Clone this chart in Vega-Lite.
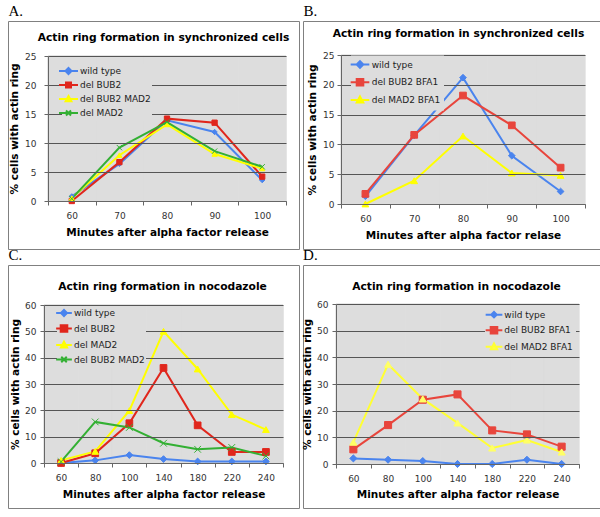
{
  "$schema": "https://vega.github.io/schema/vega-lite/v6.json",
  "padding": {"left": 7, "top": 3, "right": 0, "bottom": 0},
  "background": "white",
  "config": {
    "view": {"stroke": "#808080", "fill": "white", "strokeWidth": 1},
    "axis": {"labelFont": "DejaVu Sans", "labelFontSize": 9, "labelColor": "#333333", "titleFont": "DejaVu Sans", "titleFontSize": 10.5, "titleFontWeight": "bold", "titleColor": "#000000", "domainColor": "#666666", "tickColor": "#666666", "tickSize": 4, "gridColor": "#555555", "gridWidth": 1, "zindex": 1},
    "legend": {"labelFont": "DejaVu Sans", "labelFontSize": 9, "labelColor": "#222222", "labelLimit": 300},
    "title": {"font": "DejaVu Sans", "fontWeight": "bold", "fontSize": 10.7, "color": "#000000"}
  },
  "datasets": {
    "A": [
      {"x": 60, "series": "wild type", "v": 0.8}, {"x": 70, "series": "wild type", "v": 6.4}, {"x": 80, "series": "wild type", "v": 13.9}, {"x": 90, "series": "wild type", "v": 11.9}, {"x": 100, "series": "wild type", "v": 3.6},
      {"x": 60, "series": "del BUB2", "v": 0}, {"x": 70, "series": "del BUB2", "v": 6.7}, {"x": 80, "series": "del BUB2", "v": 14.2}, {"x": 90, "series": "del BUB2", "v": 13.5}, {"x": 100, "series": "del BUB2", "v": 4.2},
      {"x": 60, "series": "del BUB2 MAD2", "v": 0.5}, {"x": 70, "series": "del BUB2 MAD2", "v": 7.9}, {"x": 80, "series": "del BUB2 MAD2", "v": 13.2}, {"x": 90, "series": "del BUB2 MAD2", "v": 8.1}, {"x": 100, "series": "del BUB2 MAD2", "v": 5.6},
      {"x": 60, "series": "del MAD2", "v": 0.4}, {"x": 70, "series": "del MAD2", "v": 9.2}, {"x": 80, "series": "del MAD2", "v": 13.6}, {"x": 90, "series": "del MAD2", "v": 8.6}, {"x": 100, "series": "del MAD2", "v": 5.9}
    ],
    "B": [
      {"x": 60, "series": "wild type", "v": 1.3}, {"x": 70, "series": "wild type", "v": 11.5}, {"x": 80, "series": "wild type", "v": 21.2}, {"x": 90, "series": "wild type", "v": 8.1}, {"x": 100, "series": "wild type", "v": 2.1},
      {"x": 60, "series": "del BUB2 BFA1", "v": 1.7}, {"x": 70, "series": "del BUB2 BFA1", "v": 11.6}, {"x": 80, "series": "del BUB2 BFA1", "v": 18.2}, {"x": 90, "series": "del BUB2 BFA1", "v": 13.2}, {"x": 100, "series": "del BUB2 BFA1", "v": 6.1},
      {"x": 60, "series": "del MAD2 BFA1", "v": 0}, {"x": 70, "series": "del MAD2 BFA1", "v": 3.9}, {"x": 80, "series": "del MAD2 BFA1", "v": 11.4}, {"x": 90, "series": "del MAD2 BFA1", "v": 5.2}, {"x": 100, "series": "del MAD2 BFA1", "v": 4.8}
    ],
    "C": [
      {"x": 60, "series": "wild type", "v": 0}, {"x": 80, "series": "wild type", "v": 1.0}, {"x": 100, "series": "wild type", "v": 3.0}, {"x": 140, "series": "wild type", "v": 1.5}, {"x": 180, "series": "wild type", "v": 0.6}, {"x": 220, "series": "wild type", "v": 0.6}, {"x": 240, "series": "wild type", "v": 0.6},
      {"x": 60, "series": "del BUB2", "v": 0}, {"x": 80, "series": "del BUB2", "v": 3.7}, {"x": 100, "series": "del BUB2", "v": 15.1}, {"x": 140, "series": "del BUB2", "v": 36.1}, {"x": 180, "series": "del BUB2", "v": 14.3}, {"x": 220, "series": "del BUB2", "v": 4.2}, {"x": 240, "series": "del BUB2", "v": 4.2},
      {"x": 60, "series": "del MAD2", "v": 1.0}, {"x": 80, "series": "del MAD2", "v": 4.4}, {"x": 100, "series": "del MAD2", "v": 19.9}, {"x": 140, "series": "del MAD2", "v": 50.0}, {"x": 180, "series": "del MAD2", "v": 35.7}, {"x": 220, "series": "del MAD2", "v": 18.4}, {"x": 240, "series": "del MAD2", "v": 12.7},
      {"x": 60, "series": "del BUB2 MAD2", "v": 0.5}, {"x": 80, "series": "del BUB2 MAD2", "v": 15.6}, {"x": 100, "series": "del BUB2 MAD2", "v": 13.5}, {"x": 140, "series": "del BUB2 MAD2", "v": 7.5}, {"x": 180, "series": "del BUB2 MAD2", "v": 5.2}, {"x": 220, "series": "del BUB2 MAD2", "v": 5.9}, {"x": 240, "series": "del BUB2 MAD2", "v": 2.7}
    ],
    "D": [
      {"x": 60, "series": "wild type", "v": 2.1}, {"x": 80, "series": "wild type", "v": 1.6}, {"x": 100, "series": "wild type", "v": 1.1}, {"x": 140, "series": "wild type", "v": 0}, {"x": 180, "series": "wild type", "v": 0}, {"x": 220, "series": "wild type", "v": 1.6}, {"x": 240, "series": "wild type", "v": 0},
      {"x": 60, "series": "del BUB2 BFA1", "v": 5.5}, {"x": 80, "series": "del BUB2 BFA1", "v": 14.6}, {"x": 100, "series": "del BUB2 BFA1", "v": 24.1}, {"x": 140, "series": "del BUB2 BFA1", "v": 26.1}, {"x": 180, "series": "del BUB2 BFA1", "v": 12.6}, {"x": 220, "series": "del BUB2 BFA1", "v": 11.1}, {"x": 240, "series": "del BUB2 BFA1", "v": 6.5},
      {"x": 60, "series": "del MAD2 BFA1", "v": 8.2}, {"x": 80, "series": "del MAD2 BFA1", "v": 37.4}, {"x": 100, "series": "del MAD2 BFA1", "v": 24.4}, {"x": 140, "series": "del MAD2 BFA1", "v": 15.4}, {"x": 180, "series": "del MAD2 BFA1", "v": 6.0}, {"x": 220, "series": "del MAD2 BFA1", "v": 9.0}, {"x": 240, "series": "del MAD2 BFA1", "v": 4.5}
    ]
  },
  "columns": 2,
  "spacing": {"row": -3, "column": 2},
  "resolve": {"scale": {"x": "independent", "y": "independent", "color": "independent", "shape": "independent", "stroke": "independent"}, "legend": {"color": "independent", "shape": "independent", "stroke": "independent"}},
  "concat": [
    {
      "title": {"text": "A.", "anchor": "start", "font": "Liberation Serif", "fontSize": 15, "fontWeight": "normal", "offset": 2, "dx": 1},
      "vconcat": [{
        "width": 291, "height": 228,
        "title": {"text": "Actin ring formation in synchronized cells", "offset": -25, "dy": 3, "dx": 10, "baseline": "middle", "anchor": "middle", "frame": "group"},
        "data": {"name": "A"},
        "resolve": {"scale": {"color": "independent", "shape": "independent", "stroke": "independent"}},
        "encoding": {
          "x": {"field": "x", "type": "ordinal", "scale": {"type": "band", "range": [40, 278], "paddingInner": 0, "paddingOuter": 0}, "axis": {"offset": -48, "tickBand": "extent", "labelAngle": 0, "title": "Minutes after alpha factor release", "titlePadding": 7, "labelPadding": 6, "zindex": 1}},
          "y": {"field": "v", "type": "quantitative", "scale": {"domain": [0, 25], "range": [180, 35], "nice": false}, "axis": {"offset": -40, "values": [0, 5, 10, 15, 20, 25], "grid": true, "title": "% cells with actin ring", "labelPadding": 8, "titlePadding": 5, "zindex": 1}}
        },
        "layer": [
          {"mark": {"type": "bar", "color": "#dddddd", "stroke": "#dddddd", "strokeWidth": 0.6}, "encoding": {"y": {"datum": 25}, "y2": {"datum": 0}}},
          {"mark": {"type": "line", "strokeWidth": 2, "zindex": 2}, "encoding": {"color": {"field": "series", "type": "nominal", "scale": {"domain": ["wild type", "del BUB2", "del BUB2 MAD2", "del MAD2"], "range": ["#4a84ee", "#e0261c", "#ffff00", "#33b033"]}, "legend": null}}},
          {"mark": {"type": "point", "filled": true, "opacity": 1, "size": 28, "strokeWidth": 1, "zindex": 3},
           "encoding": {
             "color": {"field": "series", "type": "nominal", "scale": {"domain": ["wild type", "del BUB2", "del BUB2 MAD2", "del MAD2"], "range": ["#4a84ee", "#e0261c", "#ffff00", "#33b033"]}, "legend": null},
             "shape": {"field": "series", "type": "nominal", "scale": {"domain": ["wild type", "del BUB2", "del BUB2 MAD2", "del MAD2"], "range": ["diamond", "square", "triangle-up", "M-1,-1L1,1M-1,1L1,-1"]}, "legend": null},
             "stroke": {"field": "series", "type": "nominal", "scale": {"domain": ["wild type", "del BUB2", "del BUB2 MAD2", "del MAD2"], "range": ["#4a84ee", "#e0261c", "#ffff00", "#33b033"]}, "legend": null}
           }},
          {"transform": [{"filter": "false"}],
           "mark": {"type": "point", "filled": true, "opacity": 1, "size": 100, "strokeWidth": 2},
           "encoding": {
             "color": {"field": "series", "type": "nominal", "scale": {"domain": ["wild type", "del BUB2", "del BUB2 MAD2", "del MAD2"], "range": ["#4a84ee", "#e0261c", "#ffff00", "#33b033"]},
               "legend": {"title": null, "orient": "none", "legendX": 54, "legendY": 43.5, "fillColor": "#dddddd", "padding": 0.5, "symbolSize": 100, "symbolStrokeWidth": 2, "symbolOpacity": 1, "rowPadding": 0, "labelOffset": 5.5, "zindex": 4}},
             "shape": {"field": "series", "type": "nominal", "scale": {"domain": ["wild type", "del BUB2", "del BUB2 MAD2", "del MAD2"], "range": ["M-1.9,0H1.9M-0.6,0L0,-0.6L0.6,0L0,0.6Z", "M-1.9,0H1.9M-0.5,-0.5H0.5V0.5H-0.5Z", "M-1.9,0H1.9M0,-0.6L0.58,0.46H-0.58Z", "M-1.9,0H1.9M-0.5,-0.5L0.5,0.5M-0.5,0.5L0.5,-0.5"]},
               "legend": {"title": null, "orient": "none", "legendX": 54, "legendY": 43.5, "fillColor": "#dddddd", "padding": 0.5, "symbolSize": 100, "symbolStrokeWidth": 2, "symbolOpacity": 1, "rowPadding": 0, "labelOffset": 5.5, "zindex": 4}},
             "stroke": {"field": "series", "type": "nominal", "scale": {"domain": ["wild type", "del BUB2", "del BUB2 MAD2", "del MAD2"], "range": ["#4a84ee", "#e0261c", "#ffff00", "#33b033"]},
               "legend": {"title": null, "orient": "none", "legendX": 54, "legendY": 43.5, "fillColor": "#dddddd", "padding": 0.5, "symbolSize": 100, "symbolStrokeWidth": 2, "symbolOpacity": 1, "rowPadding": 0, "labelOffset": 5.5, "zindex": 4}}
           }}
        ]
      }]
    },
    {
      "title": {"text": "B.", "anchor": "start", "font": "Liberation Serif", "fontSize": 15, "fontWeight": "normal", "offset": 2, "dx": 1},
      "vconcat": [{
        "width": 297, "height": 228,
        "title": {"text": "Actin ring formation in synchronized cells", "offset": -22, "dy": 2, "dx": 7, "baseline": "middle", "anchor": "middle", "frame": "group"},
        "data": {"name": "B"},
        "resolve": {"scale": {"color": "independent", "shape": "independent", "stroke": "independent"}},
        "encoding": {
          "x": {"field": "x", "type": "ordinal", "scale": {"type": "band", "range": [38, 282], "paddingInner": 0, "paddingOuter": 0}, "axis": {"offset": -45, "tickBand": "extent", "labelAngle": 0, "title": "Minutes after alpha factor relase", "titlePadding": 7, "labelPadding": 6, "zindex": 1}},
          "y": {"field": "v", "type": "quantitative", "scale": {"domain": [0, 25], "range": [183, 34], "nice": false}, "axis": {"offset": -38, "values": [0, 5, 10, 15, 20, 25], "grid": true, "title": "% cells with actin ring", "labelPadding": 3, "titlePadding": 5, "zindex": 1}}
        },
        "layer": [
          {"mark": {"type": "bar", "color": "#dddddd", "stroke": "#dddddd", "strokeWidth": 0.6}, "encoding": {"y": {"datum": 25}, "y2": {"datum": 0}}},
          {"mark": {"type": "line", "strokeWidth": 2, "zindex": 2}, "encoding": {"color": {"field": "series", "type": "nominal", "scale": {"domain": ["wild type", "del BUB2 BFA1", "del MAD2 BFA1"], "range": ["#4a84ee", "#e8453c", "#ffff00"]}, "legend": null}}},
          {"mark": {"type": "point", "filled": true, "opacity": 1, "size": 45, "strokeWidth": 1, "zindex": 3},
           "encoding": {
             "color": {"field": "series", "type": "nominal", "scale": {"domain": ["wild type", "del BUB2 BFA1", "del MAD2 BFA1"], "range": ["#4a84ee", "#e8453c", "#ffff00"]}, "legend": null},
             "shape": {"field": "series", "type": "nominal", "scale": {"domain": ["wild type", "del BUB2 BFA1", "del MAD2 BFA1"], "range": ["diamond", "square", "triangle-up"]}, "legend": null},
             "stroke": {"field": "series", "type": "nominal", "scale": {"domain": ["wild type", "del BUB2 BFA1", "del MAD2 BFA1"], "range": ["#4a84ee", "#e8453c", "#ffff00"]}, "legend": null}
           }},
          {"transform": [{"filter": "false"}],
           "mark": {"type": "point", "filled": true, "opacity": 1, "size": 100, "strokeWidth": 2},
           "encoding": {
             "color": {"field": "series", "type": "nominal", "scale": {"domain": ["wild type", "del BUB2 BFA1", "del MAD2 BFA1"], "range": ["#4a84ee", "#e8453c", "#ffff00"]},
               "legend": {"title": null, "orient": "none", "legendX": 48, "legendY": 34.5, "fillColor": "#dddddd", "padding": 3, "symbolSize": 100, "symbolStrokeWidth": 2, "symbolOpacity": 1, "rowPadding": 1.7, "labelOffset": 5.7, "zindex": 4}},
             "shape": {"field": "series", "type": "nominal", "scale": {"domain": ["wild type", "del BUB2 BFA1", "del MAD2 BFA1"], "range": ["M-1.87,0H1.87M-0.66,0L0,-0.66L0.66,0L0,0.66Z", "M-1.87,0H1.87M-0.66,-0.66H0.66V0.66H-0.66Z", "M-1.87,0H1.87M0,-0.7L0.66,0.54H-0.66Z"]},
               "legend": {"title": null, "orient": "none", "legendX": 48, "legendY": 34.5, "fillColor": "#dddddd", "padding": 3, "symbolSize": 100, "symbolStrokeWidth": 2, "symbolOpacity": 1, "rowPadding": 1.7, "labelOffset": 5.7, "zindex": 4}},
             "stroke": {"field": "series", "type": "nominal", "scale": {"domain": ["wild type", "del BUB2 BFA1", "del MAD2 BFA1"], "range": ["#4a84ee", "#e8453c", "#ffff00"]},
               "legend": {"title": null, "orient": "none", "legendX": 48, "legendY": 34.5, "fillColor": "#dddddd", "padding": 3, "symbolSize": 100, "symbolStrokeWidth": 2, "symbolOpacity": 1, "rowPadding": 1.7, "labelOffset": 5.7, "zindex": 4}}
           }}
        ]
      }]
    },
    {
      "title": {"text": "C.", "anchor": "start", "font": "Liberation Serif", "fontSize": 15, "fontWeight": "normal", "offset": 2, "dx": 1},
      "vconcat": [{
        "width": 291, "height": 243,
        "title": {"text": "Actin ring formation in nocodazole", "offset": -28, "dy": 5, "dx": 9, "baseline": "middle", "anchor": "middle", "frame": "group"},
        "data": {"name": "C"},
        "resolve": {"scale": {"color": "independent", "shape": "independent", "stroke": "independent"}},
        "encoding": {
          "x": {"field": "x", "type": "ordinal", "scale": {"type": "band", "range": [36, 275], "paddingInner": 0, "paddingOuter": 0}, "axis": {"offset": -45, "tickBand": "extent", "labelAngle": 0, "title": "Minutes after alpha factor release", "titlePadding": 7, "labelPadding": 6, "zindex": 1}},
          "y": {"field": "v", "type": "quantitative", "scale": {"domain": [0, 60], "range": [198, 40], "nice": false}, "axis": {"offset": -36, "values": [0, 10, 20, 30, 40, 50, 60], "grid": true, "title": "% cells with actin ring", "labelPadding": 4, "titlePadding": 4, "zindex": 1}}
        },
        "layer": [
          {"mark": {"type": "bar", "color": "#dddddd", "stroke": "#dddddd", "strokeWidth": 0.6}, "encoding": {"y": {"datum": 60}, "y2": {"datum": 0}}},
          {"mark": {"type": "line", "strokeWidth": 2, "zindex": 2}, "encoding": {"color": {"field": "series", "type": "nominal", "scale": {"domain": ["wild type", "del BUB2", "del MAD2", "del BUB2 MAD2"], "range": ["#4a84ee", "#e0261c", "#ffff00", "#33b033"]}, "legend": null}}},
          {"mark": {"type": "point", "filled": true, "opacity": 1, "size": 45, "strokeWidth": 1, "zindex": 3},
           "encoding": {
             "color": {"field": "series", "type": "nominal", "scale": {"domain": ["wild type", "del BUB2", "del MAD2", "del BUB2 MAD2"], "range": ["#4a84ee", "#e0261c", "#ffff00", "#33b033"]}, "legend": null},
             "shape": {"field": "series", "type": "nominal", "scale": {"domain": ["wild type", "del BUB2", "del MAD2", "del BUB2 MAD2"], "range": ["diamond", "square", "triangle-up", "M-1,-1L1,1M-1,1L1,-1"]}, "legend": null},
             "stroke": {"field": "series", "type": "nominal", "scale": {"domain": ["wild type", "del BUB2", "del MAD2", "del BUB2 MAD2"], "range": ["#4a84ee", "#e0261c", "#ffff00", "#33b033"]}, "legend": null}
           }},
          {"transform": [{"filter": "false"}],
           "mark": {"type": "point", "filled": true, "opacity": 1, "size": 100, "strokeWidth": 2},
           "encoding": {
             "color": {"field": "series", "type": "nominal", "scale": {"domain": ["wild type", "del BUB2", "del MAD2", "del BUB2 MAD2"], "range": ["#4a84ee", "#e0261c", "#ffff00", "#33b033"]},
               "legend": {"title": null, "orient": "none", "legendX": 49, "legendY": 41, "fillColor": "#dddddd", "padding": 1, "symbolSize": 100, "symbolStrokeWidth": 2, "symbolOpacity": 1, "rowPadding": 0.5, "labelOffset": 4, "zindex": 4}},
             "shape": {"field": "series", "type": "nominal", "scale": {"domain": ["wild type", "del BUB2", "del MAD2", "del BUB2 MAD2"], "range": ["M-1.57,0H1.57M-0.6,0L0,-0.6L0.6,0L0,0.6Z", "M-1.57,0H1.57M-0.66,-0.66H0.66V0.66H-0.66Z", "M-1.57,0H1.57M0,-0.66L0.62,0.5H-0.62Z", "M-1.57,0H1.57M-0.55,-0.55L0.55,0.55M-0.55,0.55L0.55,-0.55"]},
               "legend": {"title": null, "orient": "none", "legendX": 49, "legendY": 41, "fillColor": "#dddddd", "padding": 1, "symbolSize": 100, "symbolStrokeWidth": 2, "symbolOpacity": 1, "rowPadding": 0.5, "labelOffset": 4, "zindex": 4}},
             "stroke": {"field": "series", "type": "nominal", "scale": {"domain": ["wild type", "del BUB2", "del MAD2", "del BUB2 MAD2"], "range": ["#4a84ee", "#e0261c", "#ffff00", "#33b033"]},
               "legend": {"title": null, "orient": "none", "legendX": 49, "legendY": 41, "fillColor": "#dddddd", "padding": 1, "symbolSize": 100, "symbolStrokeWidth": 2, "symbolOpacity": 1, "rowPadding": 0.5, "labelOffset": 4, "zindex": 4}}
           }}
        ]
      }]
    },
    {
      "title": {"text": "D.", "anchor": "start", "font": "Liberation Serif", "fontSize": 15, "fontWeight": "normal", "offset": 2, "dx": 1},
      "vconcat": [{
        "width": 297, "height": 243,
        "title": {"text": "Actin ring formation in nocodazole", "offset": -28, "dy": 5, "dx": 5, "baseline": "middle", "anchor": "middle", "frame": "group"},
        "data": {"name": "D"},
        "resolve": {"scale": {"color": "independent", "shape": "independent", "stroke": "independent"}},
        "encoding": {
          "x": {"field": "x", "type": "ordinal", "scale": {"type": "band", "range": [33, 276], "paddingInner": 0, "paddingOuter": 0}, "axis": {"offset": -44, "tickBand": "extent", "labelAngle": 0, "title": "Minutes after alpha factor release", "titlePadding": 6, "labelPadding": 6, "zindex": 1}},
          "y": {"field": "v", "type": "quantitative", "scale": {"domain": [0, 60], "range": [199, 39], "nice": false}, "axis": {"offset": -33, "values": [0, 10, 20, 30, 40, 50, 60], "grid": true, "title": "% cells with actin ring", "labelPadding": 4, "titlePadding": 4, "zindex": 1}}
        },
        "layer": [
          {"mark": {"type": "bar", "color": "#dddddd", "stroke": "#dddddd", "strokeWidth": 0.6}, "encoding": {"y": {"datum": 60}, "y2": {"datum": 0}}},
          {"mark": {"type": "line", "strokeWidth": 2, "zindex": 2}, "encoding": {"color": {"field": "series", "type": "nominal", "scale": {"domain": ["wild type", "del BUB2 BFA1", "del MAD2 BFA1"], "range": ["#4a84ee", "#e8453c", "#ffff33"]}, "legend": null}}},
          {"mark": {"type": "point", "filled": true, "opacity": 1, "size": 50, "strokeWidth": 1, "zindex": 3},
           "encoding": {
             "color": {"field": "series", "type": "nominal", "scale": {"domain": ["wild type", "del BUB2 BFA1", "del MAD2 BFA1"], "range": ["#4a84ee", "#e8453c", "#ffff66"]}, "legend": null},
             "shape": {"field": "series", "type": "nominal", "scale": {"domain": ["wild type", "del BUB2 BFA1", "del MAD2 BFA1"], "range": ["diamond", "square", "triangle-up"]}, "legend": null},
             "stroke": {"field": "series", "type": "nominal", "scale": {"domain": ["wild type", "del BUB2 BFA1", "del MAD2 BFA1"], "range": ["#4a84ee", "#e8453c", "#ffff66"]}, "legend": null}
           }},
          {"transform": [{"filter": "false"}],
           "mark": {"type": "point", "filled": true, "opacity": 1, "size": 100, "strokeWidth": 2},
           "encoding": {
             "color": {"field": "series", "type": "nominal", "scale": {"domain": ["wild type", "del BUB2 BFA1", "del MAD2 BFA1"], "range": ["#4a84ee", "#e8453c", "#ffff66"]},
               "legend": {"title": null, "orient": "none", "legendX": 182, "legendY": 40.7, "fillColor": "#dddddd", "padding": 3, "symbolSize": 100, "symbolStrokeWidth": 2, "symbolOpacity": 1, "rowPadding": 0.5, "labelOffset": 4.3, "zindex": 4}},
             "shape": {"field": "series", "type": "nominal", "scale": {"domain": ["wild type", "del BUB2 BFA1", "del MAD2 BFA1"], "range": ["M-1.67,0H1.67M-0.55,0L0,-0.55L0.55,0L0,0.55Z", "M-1.67,0H1.67M-0.66,-0.66H0.66V0.66H-0.66Z", "M-1.67,0H1.67M0,-0.66L0.62,0.5H-0.62Z"]},
               "legend": {"title": null, "orient": "none", "legendX": 182, "legendY": 40.7, "fillColor": "#dddddd", "padding": 3, "symbolSize": 100, "symbolStrokeWidth": 2, "symbolOpacity": 1, "rowPadding": 0.5, "labelOffset": 4.3, "zindex": 4}},
             "stroke": {"field": "series", "type": "nominal", "scale": {"domain": ["wild type", "del BUB2 BFA1", "del MAD2 BFA1"], "range": ["#4a84ee", "#e8453c", "#ffff33"]},
               "legend": {"title": null, "orient": "none", "legendX": 182, "legendY": 40.7, "fillColor": "#dddddd", "padding": 3, "symbolSize": 100, "symbolStrokeWidth": 2, "symbolOpacity": 1, "rowPadding": 0.5, "labelOffset": 4.3, "zindex": 4}}
           }}
        ]
      }]
    }
  ]
}
